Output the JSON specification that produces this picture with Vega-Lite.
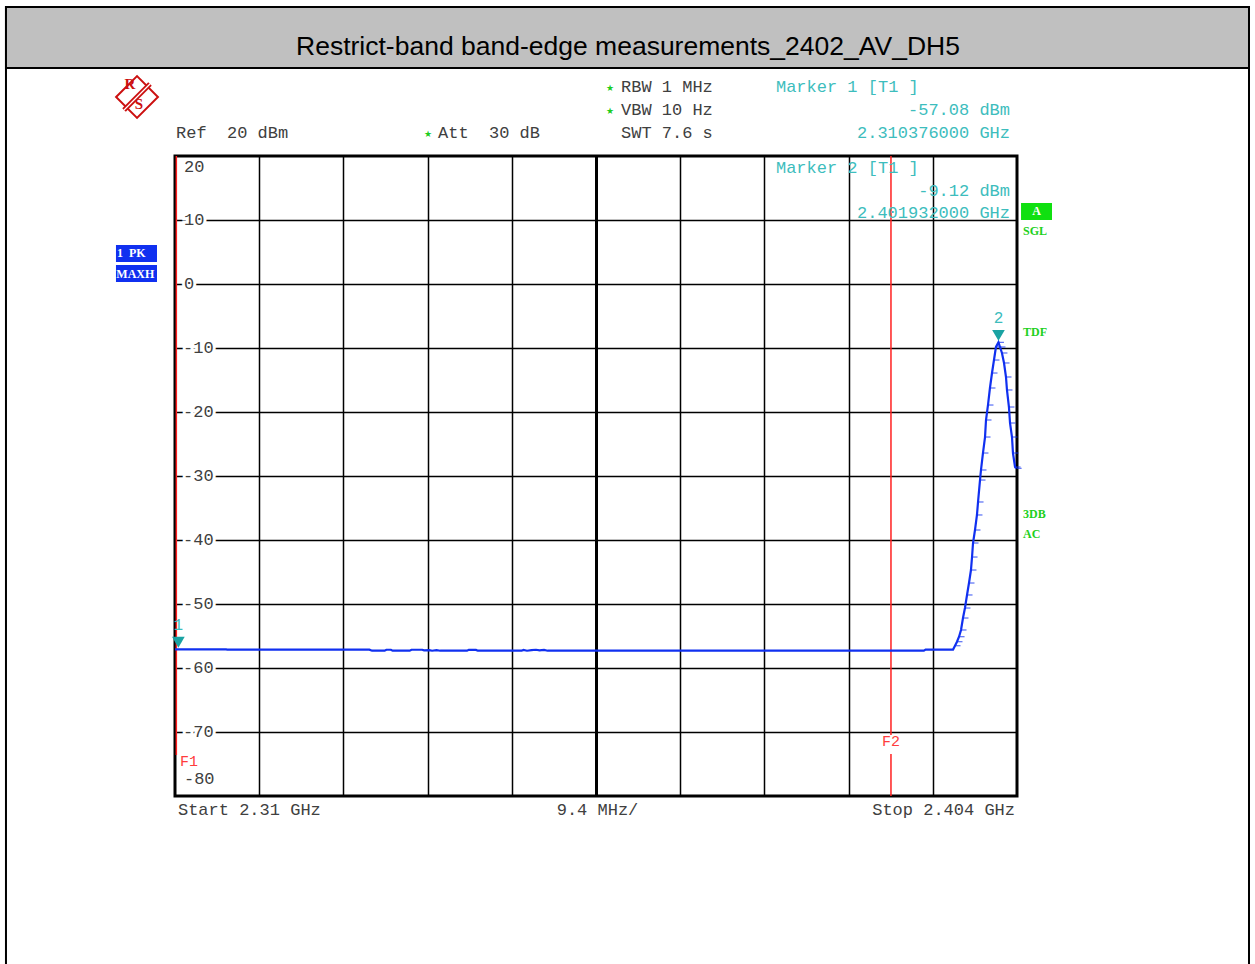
{
  "$schema": "https://vega.github.io/schema/vega-lite/v6.json",
  "width": 842,
  "height": 640,
  "autosize": {"type": "none"},
  "padding": {"left": 175, "top": 156, "right": 238, "bottom": 168},
  "background": "white",
  "config": {
    "view": {"stroke": "black", "strokeWidth": 3},
    "axis": {"domain": false, "ticks": false, "labels": false, "title": null, "grid": true, "gridColor": "#000000", "gridWidth": 1.5}
  },
  "encoding": {
    "x": {"field": "f", "type": "quantitative", "scale": {"domain": [2310, 2404], "nice": false, "zero": false},
      "axis": {"values": [2319.4, 2328.8, 2338.2, 2347.6, 2357, 2366.4, 2375.8, 2385.2, 2394.6],
        "gridWidth": {"condition": {"test": "datum.value == 2357", "value": 3}, "value": 1.5}}},
    "y": {"field": "v", "type": "quantitative", "scale": {"domain": [-80, 20], "nice": false, "zero": false},
      "axis": {"values": [10, 0, -10, -20, -30, -40, -50, -60, -70]}}
  },
  "layer": [
    {
      "data": {"values": [{"f": 2291.13, "f2": 2429.9, "v": 43.28, "v2": -120}]},
      "mark": {"type": "rect", "filled": false, "color": "black", "strokeWidth": 2, "clip": false},
      "encoding": {"x2": {"field": "f2"}, "y2": {"field": "v2"}}
    },
    {
      "data": {"values": [{"f": 2291.13, "f2": 2429.9, "v": 43.28, "v2": 33.75}]},
      "mark": {"type": "rect", "fill": "#c0c0c0", "stroke": "black", "strokeWidth": 2, "clip": false},
      "encoding": {"x2": {"field": "f2"}, "y2": {"field": "v2"}}
    },
    {
      "data": {"values": [{"f": 2360.57, "v": 37.03, "label": "Restrict-band band-edge measurements_2402_AV_DH5"}]},
      "mark": {"type": "text", "font": "Liberation Sans", "fontSize": 26.5, "color": "black", "align": "center", "baseline": "middle", "clip": false},
      "encoding": {"text": {"field": "label"}}
    },
    {
      "data": {"values": [{"f": 2310.15, "v": 20, "v2": -73.6}, {"f": 2389.93, "v": 20, "v2": -70.47}, {"f": 2389.93, "v": -73.44, "v2": -80}]},
      "mark": {"type": "rule", "color": "#ff2020", "strokeWidth": 1.5},
      "encoding": {"y2": {"field": "v2"}}
    },
    {
      "data": {"name": "trace", "values": [
        {"f": 2310.0, "v": -57.08}, {"f": 2315.7, "v": -57.08}, {"f": 2315.8, "v": -57.13}, {"f": 2331.7, "v": -57.13},
        {"f": 2332.0, "v": -57.3}, {"f": 2333.4, "v": -57.3}, {"f": 2333.6, "v": -57.15}, {"f": 2334.1, "v": -57.15},
        {"f": 2334.3, "v": -57.3}, {"f": 2336.2, "v": -57.3}, {"f": 2336.4, "v": -57.15}, {"f": 2337.6, "v": -57.15},
        {"f": 2337.8, "v": -57.25}, {"f": 2338.4, "v": -57.2}, {"f": 2338.7, "v": -57.3}, {"f": 2339.2, "v": -57.22},
        {"f": 2339.6, "v": -57.3}, {"f": 2342.6, "v": -57.3}, {"f": 2342.8, "v": -57.15}, {"f": 2343.6, "v": -57.18},
        {"f": 2343.8, "v": -57.3}, {"f": 2348.7, "v": -57.3}, {"f": 2348.9, "v": -57.18}, {"f": 2349.3, "v": -57.3},
        {"f": 2349.8, "v": -57.2}, {"f": 2350.3, "v": -57.15}, {"f": 2350.7, "v": -57.25}, {"f": 2351.2, "v": -57.18},
        {"f": 2351.6, "v": -57.3}, {"f": 2393.6, "v": -57.3}, {"f": 2393.8, "v": -57.12}, {"f": 2396.86, "v": -57.12},
        {"f": 2397.08, "v": -56.52}, {"f": 2397.30, "v": -55.89}, {"f": 2397.53, "v": -55.11}, {"f": 2397.75, "v": -54.06},
        {"f": 2397.97, "v": -52.19}, {"f": 2398.19, "v": -50.63}, {"f": 2398.42, "v": -48.59}, {"f": 2398.64, "v": -46.72},
        {"f": 2398.86, "v": -44.69}, {"f": 2398.98, "v": -42.66}, {"f": 2399.09, "v": -40.47}, {"f": 2399.31, "v": -38.44},
        {"f": 2399.53, "v": -36.09}, {"f": 2399.65, "v": -34.06}, {"f": 2399.87, "v": -30.63}, {"f": 2399.98, "v": -29.06},
        {"f": 2400.20, "v": -26.41}, {"f": 2400.43, "v": -23.91}, {"f": 2400.54, "v": -21.25}, {"f": 2400.76, "v": -18.91},
        {"f": 2400.98, "v": -16.25}, {"f": 2401.21, "v": -13.91}, {"f": 2401.43, "v": -11.88}, {"f": 2401.65, "v": -9.84},
        {"f": 2401.93, "v": -9.12}, {"f": 2402.10, "v": -9.84}, {"f": 2402.32, "v": -10.78}, {"f": 2402.55, "v": -12.34},
        {"f": 2402.77, "v": -14.53}, {"f": 2402.88, "v": -16.56}, {"f": 2403.10, "v": -19.22}, {"f": 2403.22, "v": -21.72},
        {"f": 2403.44, "v": -23.91}, {"f": 2403.55, "v": -26.41}, {"f": 2403.78, "v": -28.59}, {"f": 2403.9, "v": -28.8}
      ]},
      "mark": {"type": "line", "color": "#1030f0", "strokeWidth": 2.2},
      "encoding": {"order": {"field": "f", "type": "quantitative"}}
    },
    {
      "data": {"name": "trace"},
      "transform": [{"filter": "datum.v > -56.9"}],
      "mark": {"type": "tick", "orient": "horizontal", "size": 5, "thickness": 1.2, "color": "#1030f0", "xOffset": 3}
    },
    {
      "data": {"name": "markers", "values": [{"f": 2310.376, "v": -57.08, "label": "1"}, {"f": 2401.932, "v": -9.12, "label": "2"}]},
      "mark": {"type": "point", "shape": "triangle-down", "filled": true, "size": 160, "color": "#1aa3a3", "opacity": 1, "yOffset": -7, "clip": false}
    },
    {
      "data": {"name": "markers"},
      "mark": {"type": "text", "font": "Liberation Mono", "fontSize": 16, "color": "#3dbdbd", "align": "center", "baseline": "middle", "dy": -24},
      "encoding": {"text": {"field": "label"}}
    },
    {
      "data": {"name": "ylab", "values": [
        {"f": 2311.0, "v": 10, "label": "10"}, {"f": 2311.0, "v": 0, "label": "0"}, {"f": 2310.9, "v": -10, "label": "-10"},
        {"f": 2310.9, "v": -20, "label": "-20"}, {"f": 2310.9, "v": -30, "label": "-30"}, {"f": 2310.9, "v": -40, "label": "-40"},
        {"f": 2310.9, "v": -50, "label": "-50"}, {"f": 2310.9, "v": -60, "label": "-60"}, {"f": 2310.9, "v": -70, "label": "-70"}
      ]},
      "mark": {"type": "text", "font": "Liberation Mono", "fontSize": 17, "color": "white", "stroke": "white", "strokeWidth": 6, "align": "left", "baseline": "middle"},
      "encoding": {"text": {"field": "label"}}
    },
    {
      "data": {"name": "ylab"},
      "mark": {"type": "text", "font": "Liberation Mono", "fontSize": 17, "color": "#404040", "align": "left", "baseline": "middle"},
      "encoding": {"text": {"field": "label"}}
    },
    {
      "data": {"values": [{"f": 2311.0, "v": 20, "label": "20"}]},
      "mark": {"type": "text", "font": "Liberation Mono", "fontSize": 17, "color": "#404040", "align": "left", "baseline": "alphabetic", "dy": 16},
      "encoding": {"text": {"field": "label"}}
    },
    {
      "data": {"values": [{"f": 2311.0, "v": -80, "label": "-80"}]},
      "mark": {"type": "text", "font": "Liberation Mono", "fontSize": 17, "color": "#404040", "align": "left", "baseline": "alphabetic", "dy": -12},
      "encoding": {"text": {"field": "label"}}
    },
    {
      "data": {"values": [
        {"f": 2310.11, "v": 23.59, "label": "Ref\u00a0\u00a020 dBm"},
        {"f": 2339.36, "v": 23.59, "label": "Att\u00a0\u00a030 dB"},
        {"f": 2359.79, "v": 30.78, "label": "RBW 1 MHz"},
        {"f": 2359.79, "v": 27.11, "label": "VBW 10 Hz"},
        {"f": 2359.79, "v": 23.59, "label": "SWT 7.6 s"},
        {"f": 2310.33, "v": -82.19, "label": "Start 2.31 GHz"}
      ]},
      "mark": {"type": "text", "font": "Liberation Mono", "fontSize": 17, "color": "#404040", "align": "left", "baseline": "middle", "clip": false},
      "encoding": {"text": {"field": "label"}}
    },
    {
      "data": {"values": [{"f": 2357.17, "v": -82.19, "label": "9.4 MHz/"}]},
      "mark": {"type": "text", "font": "Liberation Mono", "fontSize": 17, "color": "#404040", "align": "center", "baseline": "middle", "clip": false},
      "encoding": {"text": {"field": "label"}}
    },
    {
      "data": {"values": [{"f": 2403.78, "v": -82.19, "label": "Stop 2.404 GHz"}]},
      "mark": {"type": "text", "font": "Liberation Mono", "fontSize": 17, "color": "#404040", "align": "right", "baseline": "middle", "clip": false},
      "encoding": {"text": {"field": "label"}}
    },
    {
      "data": {"values": [{"f": 2358.56, "v": 30.7, "label": "★"}, {"f": 2358.56, "v": 27.0, "label": "★"}, {"f": 2338.24, "v": 23.5, "label": "★"}]},
      "mark": {"type": "text", "fontSize": 9, "color": "#20cc20", "align": "center", "baseline": "middle", "clip": false},
      "encoding": {"text": {"field": "label"}}
    },
    {
      "data": {"values": [{"f": 2377.09, "v": 30.78, "label": "Marker 1 [T1 ]"}, {"f": 2377.09, "v": 18.2, "label": "Marker 2 [T1 ]"}]},
      "mark": {"type": "text", "font": "Liberation Mono", "fontSize": 17, "color": "#3dbdbd", "align": "left", "baseline": "middle", "clip": false},
      "encoding": {"text": {"field": "label"}}
    },
    {
      "data": {"values": [
        {"f": 2403.22, "v": 27.11, "label": "-57.08 dBm"},
        {"f": 2403.22, "v": 23.59, "label": "2.310376000 GHz"},
        {"f": 2403.22, "v": 14.53, "label": "-9.12 dBm"},
        {"f": 2403.22, "v": 11.02, "label": "2.401932000 GHz"}
      ]},
      "mark": {"type": "text", "font": "Liberation Mono", "fontSize": 17, "color": "#3dbdbd", "align": "right", "baseline": "middle", "clip": false},
      "encoding": {"text": {"field": "label"}}
    },
    {
      "data": {"values": [{"f": 2310.56, "v": -74.53, "label": "F1"}]},
      "mark": {"type": "text", "font": "Liberation Mono", "fontSize": 15, "color": "#ff3c3c", "align": "left", "baseline": "middle"},
      "encoding": {"text": {"field": "label"}}
    },
    {
      "data": {"values": [{"f": 2389.93, "v": -71.41, "label": "F2"}]},
      "mark": {"type": "text", "font": "Liberation Mono", "fontSize": 15, "color": "#ff3c3c", "align": "center", "baseline": "middle"},
      "encoding": {"text": {"field": "label"}}
    },
    {
      "data": {"values": [
        {"f": 2303.41, "f2": 2307.99, "v": 6.09, "v2": 3.44},
        {"f": 2303.41, "f2": 2307.99, "v": 2.97, "v2": 0.31}
      ]},
      "mark": {"type": "rect", "color": "#1030f0", "clip": false},
      "encoding": {"x2": {"field": "f2"}, "y2": {"field": "v2"}}
    },
    {
      "data": {"values": [{"f": 2303.52, "v": 4.77, "label": "1\u00a0\u00a0PK"}, {"f": 2303.45, "v": 1.64, "label": "MAXH"}]},
      "mark": {"type": "text", "font": "Liberation Serif", "fontWeight": "bold", "fontSize": 12, "color": "white", "align": "left", "baseline": "middle", "clip": false},
      "encoding": {"text": {"field": "label"}}
    },
    {
      "data": {"values": [{"f": 2404.45, "f2": 2407.91, "v": 12.66, "v2": 10.0}]},
      "mark": {"type": "rect", "color": "#10e010", "clip": false},
      "encoding": {"x2": {"field": "f2"}, "y2": {"field": "v2"}}
    },
    {
      "data": {"values": [{"f": 2406.18, "v": 11.33, "label": "A"}]},
      "mark": {"type": "text", "font": "Liberation Serif", "fontWeight": "bold", "fontSize": 12, "color": "white", "align": "center", "baseline": "middle", "clip": false},
      "encoding": {"text": {"field": "label"}}
    },
    {
      "data": {"values": [
        {"f": 2404.67, "v": 8.28, "label": "SGL"},
        {"f": 2404.67, "v": -7.5, "label": "TDF"},
        {"f": 2404.67, "v": -35.94, "label": "3DB"},
        {"f": 2404.67, "v": -39.06, "label": "AC"}
      ]},
      "mark": {"type": "text", "font": "Liberation Serif", "fontWeight": "bold", "fontSize": 12, "color": "#20d020", "align": "left", "baseline": "middle", "clip": false},
      "encoding": {"text": {"field": "label"}}
    },
    {
      "data": {"values": [{"f": 2305.76, "v": 29.22}]},
      "mark": {"type": "point", "shape": "diamond", "size": 1750, "filled": false, "color": "#cc1010", "strokeWidth": 2, "opacity": 1, "clip": false}
    },
    {
      "data": {"values": [{"f": 2304.31, "v": 27.19, "f2": 2307.21, "v2": 31.25}]},
      "mark": {"type": "rule", "color": "#cc1010", "strokeWidth": 5, "clip": false},
      "encoding": {"x2": {"field": "f2"}, "y2": {"field": "v2"}}
    },
    {
      "data": {"values": [{"f": 2304.31, "v": 27.19, "f2": 2307.21, "v2": 31.25}]},
      "mark": {"type": "rule", "color": "white", "strokeWidth": 1.2, "clip": false},
      "encoding": {"x2": {"field": "f2"}, "y2": {"field": "v2"}}
    },
    {
      "data": {"values": [{"f": 2304.98, "v": 31.25, "label": "R"}, {"f": 2305.98, "v": 28.13, "label": "S"}]},
      "mark": {"type": "text", "font": "Liberation Serif", "fontWeight": "bold", "fontSize": 15, "color": "#cc1010", "align": "center", "baseline": "middle", "clip": false},
      "encoding": {"text": {"field": "label"}}
    }
  ]
}
